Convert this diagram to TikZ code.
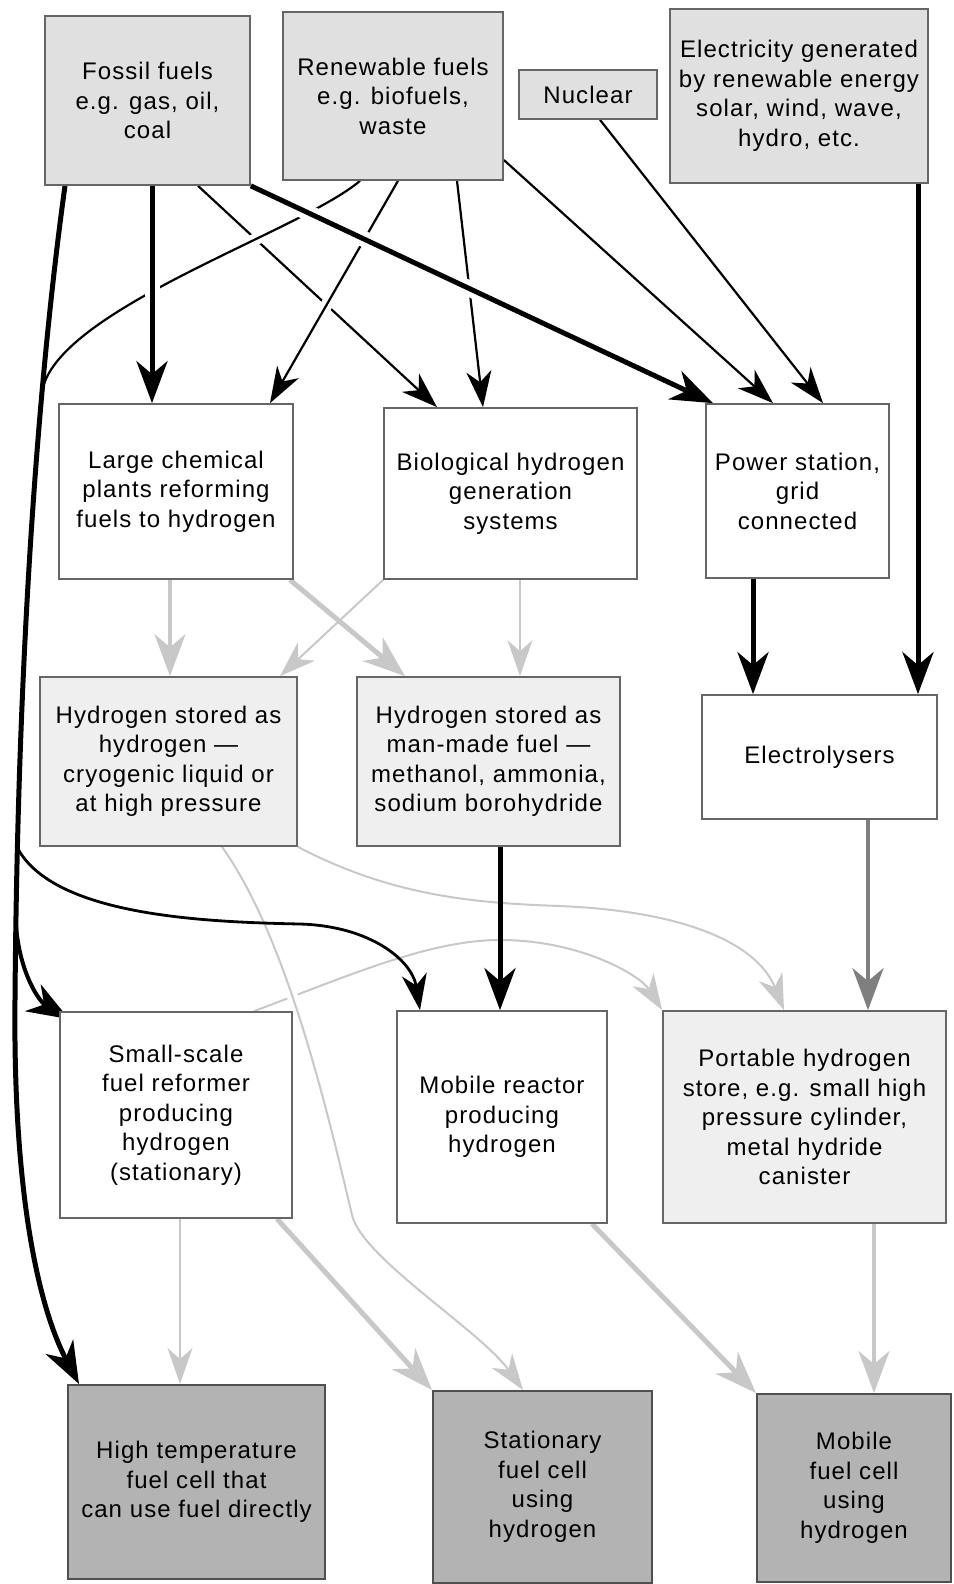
\documentclass[tikz,border=0pt]{standalone}
\usepackage{fontspec}
\setmainfont{Liberation Sans}[LetterSpace=4.5]
\usetikzlibrary{arrows.meta}
\definecolor{topfill}{HTML}{E0E0E0}
\definecolor{storefill}{HTML}{EFEFEF}
\definecolor{cellfill}{HTML}{B3B3B3}
\definecolor{boxline}{HTML}{666666}
\definecolor{celline}{HTML}{505050}
\definecolor{lgray}{HTML}{C8C8C8}
\definecolor{mgray}{HTML}{7F7F7F}
\pgfdeclarelayer{bg}
\pgfsetlayers{bg,main}
\begin{document}
\begin{tikzpicture}[x=1pt,y=-1pt,
  box/.style={draw=boxline, line width=1.7pt, align=center, inner sep=0pt,
    font=\fontsize{24}{29.5}\selectfont},
  sz/.style 2 args={minimum width=#1pt, minimum height=#2pt},
  topbox/.style={box, fill=topfill},
  plainbox/.style={box, fill=white},
  storebox/.style={box, fill=storefill},
  cellbox/.style={box, fill=cellfill, draw=celline, line width=2pt},
  bighead/.style={-{Stealth[length=42pt,width=31pt,inset=13pt]}},
  smallhead/.style={-{Stealth[length=36pt,width=25pt,inset=11pt]}},
  halo/.style={preaction={draw=white, line width=#1, -}},
  thickblk/.style={draw=black, line width=5pt},
  medblk/.style={draw=black, line width=2.8pt},
  thinblk/.style={draw=black, line width=2.2pt},
  thickgray/.style={draw=lgray, line width=5pt},
  medgray/.style={draw=lgray, line width=3.5pt},
  thingray/.style={draw=lgray, line width=2pt},
  darkgray/.style={draw=mgray, line width=4.5pt},
]
\useasboundingbox (0,0) rectangle (953,1584);

% ---------- boxes ----------
\node[topbox, sz={205}{169}] (fossil) at (147.5,100.5) {Fossil fuels\\e.g. gas, oil,\\coal};
\node[topbox, sz={220}{168}] (renew) at (393,96) {Renewable fuels\\e.g. biofuels,\\waste};
\node[topbox, sz={138}{49}] (nuclear) at (588,94.5) {Nuclear};
\node[topbox, sz={258}{174}] (elec) at (799,96) {Electricity generated\\by renewable energy\\solar, wind, wave,\\hydro, etc.};

\node[plainbox, sz={234}{175}] (large) at (176,491.5) {Large chemical\\plants reforming\\fuels to hydrogen};
\node[plainbox, sz={253}{171}] (bio) at (510.5,493.5) {Biological hydrogen\\generation\\systems};
\node[plainbox, sz={183}{174}] (power) at (797.5,491) {Power station,\\grid\\connected};

\node[storebox, sz={257}{169}] (hs) at (168.5,761.5) {Hydrogen stored as\\hydrogen —\\cryogenic liquid or\\at high pressure};
\node[storebox, sz={263}{169}] (hm) at (488.5,761.5) {Hydrogen stored as\\man-made fuel —\\methanol, ammonia,\\sodium borohydride};
\node[plainbox, sz={235}{124}] (elyz) at (819.5,757) {Electrolysers};

\node[plainbox, sz={232}{206}] (small) at (176,1115) {Small-scale\\fuel reformer\\producing\\hydrogen\\(stationary)};
\node[plainbox, sz={210}{212}] (mreac) at (502,1117) {Mobile reactor\\producing\\hydrogen};
\node[storebox, sz={283}{212}] (port) at (804.5,1117) {Portable hydrogen\\store, e.g. small high\\pressure cylinder,\\metal hydride\\canister};

\node[cellbox, sz={257}{194}] (htfc) at (196.5,1482) {High temperature\\fuel cell that\\can use fuel directly};
\node[cellbox, sz={219}{192}] (sfc) at (542.5,1487) {Stationary\\fuel cell\\using\\hydrogen};
\node[cellbox, sz={194}{188}] (mfc) at (854,1488) {Mobile\\fuel cell\\using\\hydrogen};

\coordinate (join) at (42,392);
\coordinate (b1) at (18,849);
\coordinate (b2) at (16,926);

% ---------- connectors ----------
\begin{pgfonlayer}{bg}
% grey connectors (lowest)
\draw[medgray, bighead] (large.south -| 170,0) -- (hs.north -| 170,0);
\draw[thickgray, bighead] (large.south -| 290,0) -- (hm.north -| 405,0);
\draw[thingray, smallhead] (bio.south west) -- (hs.north -| 280,0);
\draw[thingray, smallhead] (bio.south -| 520,0) -- (hm.north -| 520,0);
\draw[thingray, smallhead] (hs.south east) .. controls (390,895) and (470,903) .. (560,906)
   .. controls (700,912) and (760,950) .. (port.north -| 784,0);
\draw[thingray, smallhead] (small.north -| 254,0) .. controls (350,975) and (430,940) .. (500,940)
   .. controls (580,940) and (640,975) .. (port.north west);
\draw[thingray, smallhead, halo=11pt] (hs.south -| 222,0) .. controls (285,935) and (325,1100) .. (352,1215)
   .. controls (362,1258) and (480,1330) .. (sfc.north -| 523,0);
\draw[darkgray, bighead] (elyz.south -| 868,0) -- (port.north -| 868,0);
\draw[thingray, smallhead] (small.south -| 180,0) -- (htfc.north -| 180,0);
\draw[thickgray, bighead] (small.south -| 277,0) -- (sfc.north west);
\draw[thickgray, bighead] (mreac.south -| 592,0) -- (mfc.north west);
\draw[medgray, bighead] (port.south -| 874,0) -- (mfc.north -| 874,0);

% black connectors from the top row
\draw[thinblk, smallhead] (fossil.south -| 198,0) -- (bio.north -| 437,0);
\draw[thinblk, smallhead, halo=12pt] (renew.south -| 398,0) -- (large.north -| 270,0);
\draw[thinblk, halo=12pt] (renew.south -| 360,0) .. controls (300,232) and (55,310) .. (join);
\draw[thinblk, smallhead] (renew.south -| 457,0) -- (bio.north -| 483,0);
\draw[thinblk, smallhead] (renew.east |- 0,160) -- (power.north -| 773,0);
\draw[thinblk, smallhead] (nuclear.south -| 600,0) -- (power.north -| 823,0);
\draw[thickblk, bighead, halo=15pt] (fossil.south -| 152,0) -- (large.north -| 152,0);
\draw[thickblk, bighead, halo=16pt] (fossil.south east) -- (power.north -| 713,0);
\draw[thickblk, bighead] (fossil.south -| 65,0) .. controls (45,330) and (18,600) .. (15,1000)
   .. controls (13,1200) and (40,1310) .. (htfc.north -| 79,0);
\draw[medblk, smallhead] (b1) .. controls (55,915) and (200,922) .. (300,924)
   .. controls (370,926) and (412,960) .. (mreac.north -| 420,0);
\draw[draw=black, line width=4pt, bighead] (b2) .. controls (20,975) and (40,1002) .. ([xshift=10pt,yshift=-8pt]small.north west);
\draw[thickblk, bighead] (hm.south -| 500,0) -- (mreac.north -| 500,0);
\draw[thickblk, bighead] (power.south -| 753,0) -- (elyz.north -| 753,0);
\draw[thickblk, bighead] (elec.south -| 918,0) -- (elyz.north -| 918,0);
\end{pgfonlayer}
\end{tikzpicture}
\end{document}
